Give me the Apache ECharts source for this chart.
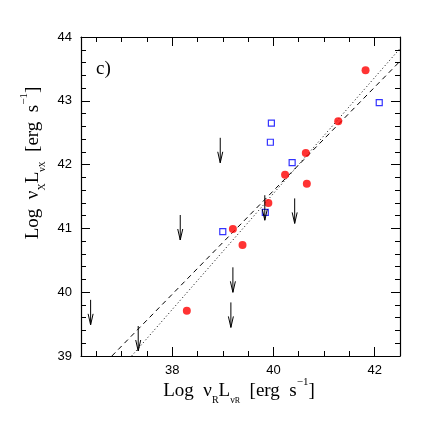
<!DOCTYPE html>
<html>
<head>
<meta charset="utf-8">
<script src="https://cdn.jsdelivr.net/npm/echarts@6/dist/echarts.min.js"></script>
<style>
  html, body { margin: 0; padding: 0; background: #fff; }
  #chart { width: 436px; height: 436px; }
</style>
</head>
<body>
<div id="chart"></div>
<script>
// detections (red filled circles)
var redX = [41.82, 41.28, 40.64, 40.23, 40.66, 39.90, 39.20, 39.39, 38.29]
var redY = [43.48, 42.68, 42.18, 41.84, 41.70, 41.40, 40.99, 40.74, 39.71]
// blue open squares
var blueX = [42.09, 39.96, 39.94, 40.37, 39.84, 39.00]
var blueY = [42.97, 42.65, 42.35, 42.03, 41.25, 40.95]
// upper limits (arrows)
var limX = [38.95, 38.16, 39.20, 39.16, 36.39, 37.33, 40.42, 39.83]
var limY = [42.42, 41.21, 40.39, 39.84, 39.88, 39.47, 41.47, 41.52]
// fit lines, end points
var dashX = [36.81, 42.5]
var dashY = [39, 43.62]
var dotX = [37.20, 42.5]
var dotY = [39, 43.82]
// ticks
var xMajor = [38, 40, 42]
var xMinor = [36.5, 37, 37.5, 38.5, 39, 39.5, 40.5, 41, 41.5]

function pairs(xs, ys) {
  return xs.map(function (x, i) { return [x, ys[i]] })
}

var chart = echarts.init(document.getElementById('chart'))

var serif = 'Liberation Serif'
var sans = 'Liberation Sans'

function xAxisCfg(pos, values, len, showLine, showLabel) {
  return {
    type: 'value',
    position: pos,
    min: 36.2,
    max: 42.5,
    axisLine: { show: showLine, onZero: false, lineStyle: { color: '#000', width: 1.2 } },
    axisTick: { show: true, inside: true, length: len, customValues: values, lineStyle: { color: '#000', width: 1 } },
    axisLabel: { show: showLabel, customValues: xMajor, color: '#000', fontFamily: sans, fontSize: 13, margin: 8 },
    splitLine: { show: false }
  }
}

function yAxisCfg(pos, showLabel) {
  return {
    type: 'value',
    position: pos,
    min: 39,
    max: 44,
    interval: 1,
    axisLine: { show: true, onZero: false, lineStyle: { color: '#000', width: 1.2 } },
    axisTick: { show: true, inside: true, length: 9, lineStyle: { color: '#000', width: 1 } },
    minorTick: { show: true, splitNumber: 5, length: 5, lineStyle: { color: '#000', width: 1 } },
    axisLabel: { show: showLabel, color: '#000', fontFamily: sans, fontSize: 13, margin: 9 },
    splitLine: { show: false },
    minorSplitLine: { show: false }
  }
}

var titleRich = {
  m: { fontFamily: serif, fontSize: 19, lineHeight: 28, color: '#000' },
  s: { fontFamily: serif, fontSize: 10, lineHeight: 11, verticalAlign: 'bottom', color: '#000' },
  ss: { fontFamily: serif, fontSize: 8, lineHeight: 7, verticalAlign: 'bottom', color: '#000' },
  sup: { fontFamily: serif, fontSize: 11, lineHeight: 13, verticalAlign: 'top', color: '#000' }
}

chart.setOption({
  animation: false,
  grid: { left: 81, top: 37, width: 319, height: 319, containLabel: false },
  xAxis: [
    xAxisCfg('bottom', xMajor, 9, true, true),
    xAxisCfg('bottom', xMinor, 5, false, false),
    xAxisCfg('top', xMajor, 9, true, false),
    xAxisCfg('top', xMinor, 5, false, false)
  ],
  yAxis: [
    yAxisCfg('left', true),
    yAxisCfg('right', false)
  ],
  graphic: [
    {
      type: 'text', left: 96, top: 60,
      style: { text: 'c)', fontFamily: serif, fontSize: 19, fill: '#000' }
    },
    {
      type: 'text', x: 239, y: 391,
      style: {
        text: '{m|Log  ν}{s|R}{m|L}{s|ν}{ss|R}{m|  [erg  s}{sup|−1}{m|]}',
        rich: titleRich, align: 'center', verticalAlign: 'middle'
      }
    },
    {
      type: 'text', x: 33, y: 163, rotation: Math.PI / 2,
      style: {
        text: '{m|Log  ν}{s|X}{m|L}{s|ν}{ss|X}{m|  [erg  s}{sup|−1}{m|]}',
        rich: titleRich, align: 'center', verticalAlign: 'middle'
      }
    }
  ],
  series: [
    {
      type: 'line',
      data: pairs(dashX, dashY),
      symbol: 'none',
      lineStyle: { color: '#000', width: 1, type: [5, 4] },
      z: 1
    },
    {
      type: 'line',
      data: pairs(dotX, dotY),
      symbol: 'none',
      lineStyle: { color: '#000', width: 1, type: [1, 2.5] },
      z: 1
    },
    {
      type: 'scatter',
      data: pairs(blueX, blueY),
      symbol: 'rect',
      symbolSize: 6,
      itemStyle: { color: '#fff', borderColor: '#0000ff', borderWidth: 1.2 },
      z: 2
    },
    {
      type: 'scatter',
      data: pairs(redX, redY),
      symbol: 'circle',
      symbolSize: 8,
      itemStyle: { color: '#ff0000' },
      z: 3
    },
    {
      type: 'custom',
      data: pairs(limX, limY),
      renderItem: function (params, api) {
        var p = api.coord([api.value(0), api.value(1)])
        var len = 25
        var hw = 2.5
        var hl = 11
        return {
          type: 'group',
          children: [
            {
              type: 'line',
              shape: { x1: p[0], y1: p[1], x2: p[0], y2: p[1] + len },
              style: { stroke: '#000', lineWidth: 1 }
            },
            {
              type: 'polyline',
              shape: { points: [[p[0] - hw, p[1] + len - hl], [p[0], p[1] + len], [p[0] + hw, p[1] + len - hl]] },
              style: { stroke: '#000', fill: null, lineWidth: 1 }
            }
          ]
        }
      },
      z: 4
    }
  ]
})
</script>
</body>
</html>
